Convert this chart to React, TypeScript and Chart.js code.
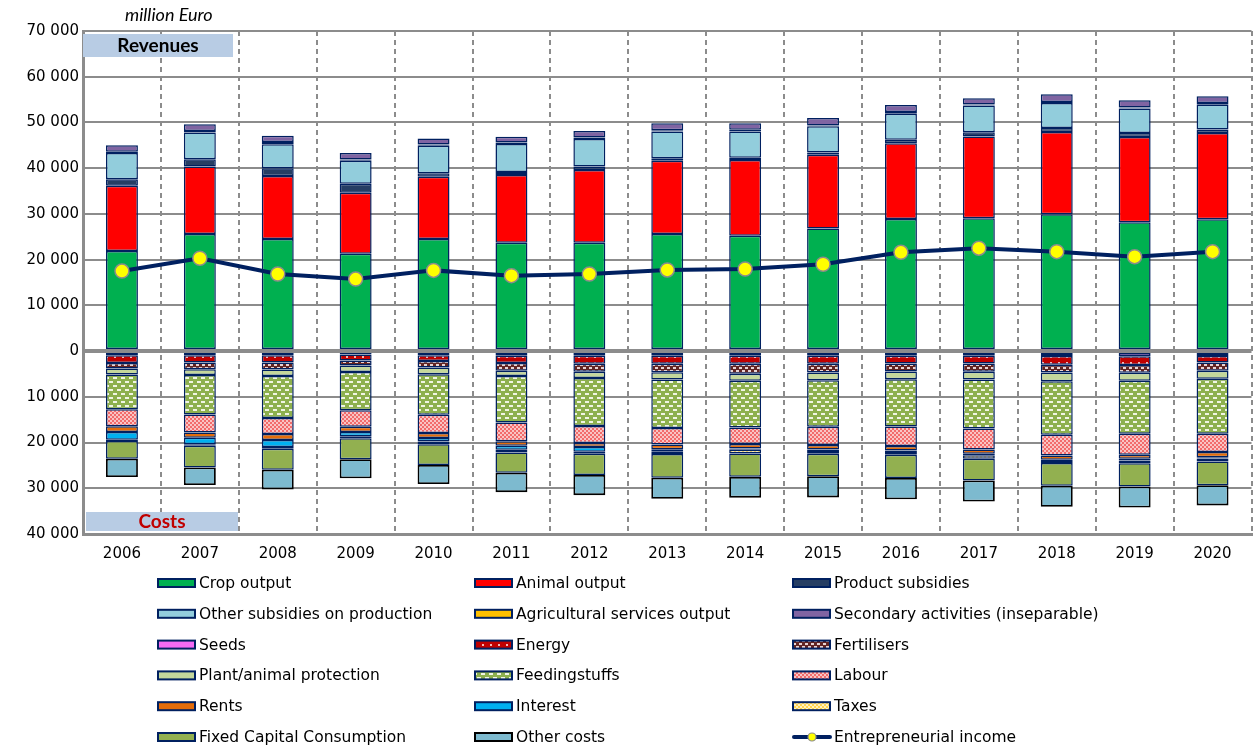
import React, { useEffect, useRef } from "react";
import { Chart, registerables } from "chart.js";
Chart.register(...registerables);

const years = ["2006","2007","2008","2009","2010","2011","2012","2013","2014","2015","2016","2017","2018","2019","2020"];

// Revenues (million Euro)
const cropOutput = [21900, 25600, 24500, 21300, 24500, 23700, 23700, 25600, 25250, 26800, 28900, 29050, 29950, 28200, 28850];
const animalOutput = [14250, 14750, 13800, 13300, 13650, 14800, 15900, 16050, 16550, 16150, 16550, 17900, 17950, 18600, 18850];
const productSubsidies = [1450, 1600, 1700, 2000, 750, 650, 750, 500, 500, 500, 750, 900, 900, 900, 750];
const otherSubsidies = [5700, 5850, 5250, 5000, 6000, 6150, 6050, 5850, 5700, 5700, 5700, 5850, 5450, 5350, 5400];
const agriServices = [300, 350, 450, 300, 300, 300, 300, 300, 400, 200, 400, 200, 200, 200, 400];
const secondaryActivities = [1400, 1450, 1400, 1400, 1300, 1300, 1450, 1500, 1400, 1600, 1500, 1400, 1700, 1600, 1500];

// Costs (million Euro, drawn below zero)
const seeds = [900, 900, 900, 750, 900, 1000, 1000, 1000, 1000, 1000, 1000, 1000, 1100, 1150, 1100];
const energy = [1680, 1600, 1600, 1300, 1250, 1600, 1750, 1750, 1750, 1750, 1700, 1700, 1900, 1900, 1400];
const fertilisers = [1250, 1450, 1550, 1100, 1450, 1700, 1750, 1900, 2200, 1950, 1750, 1800, 1700, 1700, 1800];
const plantProtection = [1300, 1300, 1400, 1400, 1450, 1150, 1400, 1550, 1550, 1700, 1700, 1700, 1900, 1750, 1750];
const feedingstuffs = [7600, 8600, 9200, 8400, 8850, 10150, 10500, 10600, 10200, 10150, 10350, 10750, 11700, 11600, 12050];
const labour = [3700, 3950, 3500, 3600, 4000, 4100, 3700, 3650, 3600, 4000, 4250, 4550, 4550, 4550, 3950];
const rents = [1250, 1150, 1300, 1150, 1100, 1000, 900, 1000, 1000, 950, 1000, 950, 900, 900, 1150];
const interest = [1700, 1450, 1550, 900, 750, 900, 1000, 450, 300, 350, 300, 350, 300, 350, 300];
const taxes = [300, 300, 350, 450, 600, 600, 450, 600, 800, 600, 600, 750, 450, 650, 650];
const fixedCapital = [3850, 4750, 4600, 4600, 4550, 4400, 4650, 5200, 5100, 4900, 5100, 4750, 4950, 5050, 5200];
const otherCosts = [4000, 3850, 4300, 4150, 4150, 4250, 4400, 4600, 4550, 4650, 4650, 4600, 4600, 4600, 4400];

const entrepreneurialIncome = [17500, 20300, 16850, 15750, 17650, 16500, 16850, 17750, 17950, 19000, 21600, 22500, 21750, 20650, 21750];

const yTicks = [-40000, -30000, -20000, -10000, 0, 10000, 20000, 30000, 40000, 50000, 60000, 70000];

const NAVY = "#002060";
const FONT = "'DejaVu Sans', Verdana, sans-serif";

function fmt(v: number): string {
  return String(Math.abs(v)).replace(/\B(?=(\d{3})+(?!\d))/g, " ");
}

function makePattern(ctx: CanvasRenderingContext2D, w: number, h: number, bg: string, draw: (g: CanvasRenderingContext2D) => void) {
  const c = document.createElement("canvas");
  c.width = w;
  c.height = h;
  const g = c.getContext("2d")!;
  g.fillStyle = bg;
  g.fillRect(0, 0, w, h);
  draw(g);
  return ctx.createPattern(c, "repeat")!;
}

export default function App() {
  const ref = useRef<HTMLCanvasElement | null>(null);

  useEffect(() => {
    const canvas = ref.current!;
    const ctx = canvas.getContext("2d")!;

    const energyPat = makePattern(ctx, 8, 6, "#C00000", (g) => {
      g.fillStyle = "#F2B8B8";
      g.fillRect(2, 2, 2, 2);
    });
    const fertPat = makePattern(ctx, 6, 6, "#632523", (g) => {
      g.fillStyle = "#E8D4D4";
      g.fillRect(1, 1, 3, 2);
      g.fillRect(4, 4, 2, 2);
      g.fillRect(0, 4, 1, 2);
    });
    const feedPat = makePattern(ctx, 8, 8, "#8DB04E", (g) => {
      g.fillStyle = "#F0F5E4";
      g.fillRect(1, 1, 4, 2);
      g.fillRect(5, 5, 3, 2);
      g.fillRect(0, 5, 1, 2);
    });
    const labourPat = makePattern(ctx, 4, 4, "#F9C4C4", (g) => {
      g.fillStyle = "#F26B6B";
      g.fillRect(0, 0, 2, 2);
      g.fillRect(2, 2, 2, 2);
    });
    const taxesPat = makePattern(ctx, 4, 4, "#FFF0C0", (g) => {
      g.fillStyle = "#FFD54F";
      g.fillRect(0, 0, 2, 2);
      g.fillRect(2, 2, 2, 2);
    });

    const bar = (label: string, data: number[], bg: any, neg = false, border = NAVY, bw = 1.5) => ({
      type: "bar" as const,
      label,
      data: neg ? data.map((v) => -v) : data,
      backgroundColor: bg,
      borderColor: border,
      borderWidth: bw,
      borderSkipped: false,
      stack: "a",
      barPercentage: 0.41,
      categoryPercentage: 1,
    });

    const datasets: any[] = [
      bar("Crop output", cropOutput, "#00B050"),
      bar("Animal output", animalOutput, "#FF0000"),
      bar("Product subsidies", productSubsidies, "#263E63"),
      bar("Other subsidies on production", otherSubsidies, "#92CDDC"),
      bar("Agricultural services output", agriServices, "#FFC000"),
      bar("Secondary activities (inseparable)", secondaryActivities, "#8064A2"),
      bar("Seeds", seeds, "#F46AF4", true),
      bar("Energy", energy, energyPat, true),
      bar("Fertilisers", fertilisers, fertPat, true),
      bar("Plant/animal protection", plantProtection, "#C4D79B", true),
      bar("Feedingstuffs", feedingstuffs, feedPat, true),
      bar("Labour", labour, labourPat, true),
      bar("Rents", rents, "#E46C0A", true),
      bar("Interest", interest, "#00B0F0", true),
      bar("Taxes", taxes, taxesPat, true),
      bar("Fixed Capital Consumption", fixedCapital, "#92B050", true),
      bar("Other costs", otherCosts, "#7DBACF", true, "#000000", 1.8),
      {
        type: "line" as const,
        label: "Entrepreneurial income",
        data: entrepreneurialIncome,
        borderColor: NAVY,
        borderWidth: 4,
        pointRadius: 7,
        pointBackgroundColor: "#FFFF00",
        pointBorderColor: "#8C8C8C",
        pointBorderWidth: 1.5,
        stack: "line",
        order: -1,
        tension: 0,
      },
    ];

    const annotations = {
      id: "annotations",
      beforeDatasetsDraw(chart: any) {
        const c = chart.ctx;
        const a = chart.chartArea;
        c.save();
        c.fillStyle = "#B8CCE4";
        c.fillRect(a.left, a.top + 3, 150, 23);
        c.fillRect(a.left + 3, a.bottom - 22, 152, 19);
        c.fillStyle = "#000";
        c.font = "bold 19px Lato, sans-serif";
        c.textAlign = "center";
        c.textBaseline = "middle";
        c.fillText("Revenues", a.left + 75, a.top + 15);
        c.fillStyle = "#C00000";
        c.fillText("Costs", a.left + 79, a.bottom - 12);
        c.restore();
      },
      afterDraw(chart: any) {
        const c = chart.ctx;
        const a = chart.chartArea;
        c.save();
        c.fillStyle = "#000";
        c.font = "italic 18px Lato, sans-serif";
        c.textAlign = "left";
        c.textBaseline = "middle";
        c.fillText("million Euro", a.left + 42, a.top - 16);

        // legend in three columns
        const colX = [158, 475, 793];
        const rowY0 = a.bottom + 49;
        const rowH = 30.8;
        c.font = "15.5px " + FONT;
        chart.data.datasets.forEach((d: any, i: number) => {
          const col = i % 3;
          const row = Math.floor(i / 3);
          const x = colX[col];
          const y = rowY0 + row * rowH;
          if (d.type === "line") {
            c.strokeStyle = d.borderColor;
            c.lineWidth = 4;
            c.lineCap = "round";
            c.beginPath();
            c.moveTo(x + 1, y);
            c.lineTo(x + 37, y);
            c.stroke();
            c.beginPath();
            c.arc(x + 19, y, 4, 0, Math.PI * 2);
            c.fillStyle = d.pointBackgroundColor;
            c.fill();
            c.lineWidth = 1.2;
            c.strokeStyle = d.pointBorderColor;
            c.stroke();
          } else {
            c.fillStyle = d.backgroundColor;
            c.fillRect(x, y - 4, 37, 8);
            c.strokeStyle = d.borderColor;
            c.lineWidth = 2;
            c.strokeRect(x, y - 4, 37, 8);
          }
          c.fillStyle = "#000";
          c.textAlign = "left";
          c.textBaseline = "middle";
          c.fillText(d.label, x + 41, y + 1);
        });
        c.restore();
      },
    };

    const chart = new Chart(ctx, {
      type: "bar",
      data: { labels: years, datasets },
      options: {
        animation: false,
        responsive: false,
        layout: { padding: { top: 31, bottom: 184, left: 0, right: 0 } },
        plugins: { legend: { display: false }, tooltip: { enabled: false } },
        scales: {
          x: {
            stacked: true,
            offset: true,
            grid: { color: "#8C8C8C", lineWidth: 2, drawTicks: false, offset: true },
            border: { display: true, color: "#8C8C8C", width: 3, dash: [5, 4] },
            ticks: { color: "#000", font: { family: FONT, size: 15 }, padding: 11, maxRotation: 0 },
            afterFit: (s: any) => { s.height = 30; },
          },
          y: {
            stacked: true,
            min: -40000,
            max: 70000,
            afterBuildTicks: (s: any) => { s.ticks = yTicks.map((v) => ({ value: v })); },
            grid: {
              color: "#8C8C8C",
              lineWidth: (c: any) => (c.tick && c.tick.value === 0 ? 4 : 2),
              drawTicks: false,
            },
            border: { display: true, color: "#8C8C8C", width: 3 },
            ticks: {
              color: "#000",
              font: { family: FONT, size: 15 },
              padding: 4,
              callback: (v: any) => fmt(Number(v)),
            },
            afterFit: (s: any) => { s.width = 83; },
          },
        },
      },
      plugins: [annotations],
    });
    return () => chart.destroy();
  }, []);

  return (
    <div style={{ position: "absolute", left: 0, top: 0, width: 1255, height: 748, overflow: "hidden", background: "#fff" }}>
      <canvas ref={ref} width={1260} height={748} style={{ display: "block" }} />
    </div>
  );
}
